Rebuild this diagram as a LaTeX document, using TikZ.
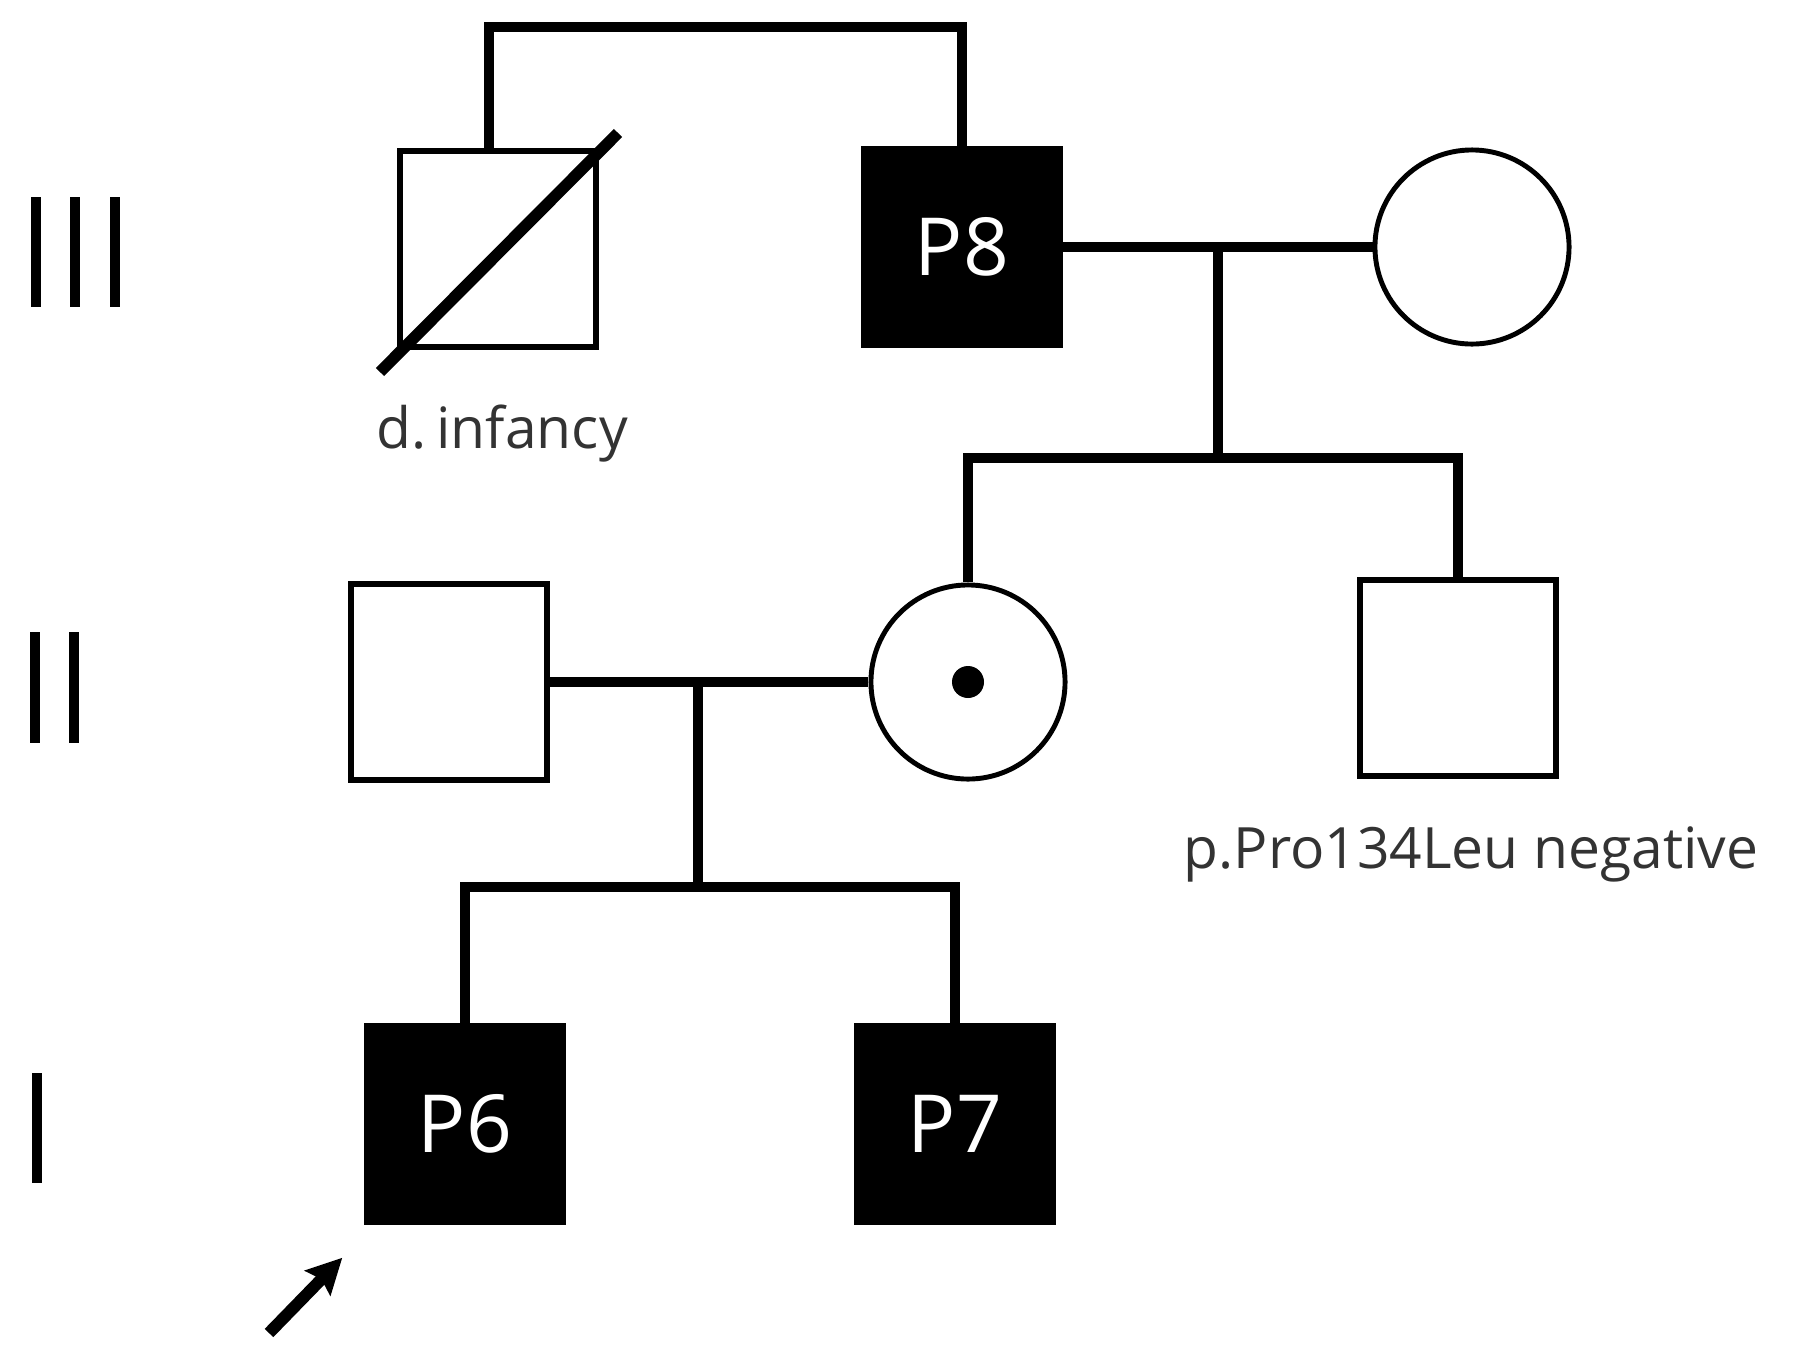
\documentclass[tikz,border=0pt]{standalone}
\usepackage{fontspec}
\setmainfont{Open Sans}
\usetikzlibrary{calc, arrows.meta}

\begin{document}
\begin{tikzpicture}[x=0.01cm, y=-0.01cm,
        male/.style={draw, line width=1.5pt, rectangle, minimum size=1.96cm, inner sep=0pt},
        female/.style={draw, line width=1.4pt, circle, minimum size=1.94cm, inner sep=0pt},
        affected/.style={fill=black, text=white, font=\fontsize{22.8}{26}\selectfont},
        link/.style={line width=3.1pt},
        gen/.style={line width=3.1pt},
        note/.style={text=black!80, font=\fontsize{16.2}{19}\selectfont, anchor=base, inner sep=0pt}]
    \useasboundingbox (0,0) rectangle (1800,1345);

    % generation numbers
    \foreach \x in {36,75,115}
        \draw[gen] (\x,197) -- (\x,307);
    \foreach \x in {35,74}
        \draw[gen] (\x,632) -- (\x,743);
    \draw[gen] (37,1073) -- (37,1183);

    % generation III
    \node[male] (infant) at (498,249) {};
    \node[male, affected] (P8) at (962,247) {P8};
    \node[female] (wife) at (1472,247) {};
    \draw[line width=3.3pt] ($(infant.center)+(-118,123)$) -- ($(infant.center)+(120,-116)$);
    \node[note] (infantlbl) at (502,448) {d.\hspace{0.18em}infancy};

    % generation II
    \node[male] (husband) at (449,682) {};
    \node[female] (carrier) at (968,682) {};
    \fill (carrier.center) circle (0.16cm);
    \node[male] (brother) at (1458,678) {};
    \node[note] (brotherlbl) at (1471,868) {p.Pro134Leu negative};

    % generation I
    \node[male, affected] (P6) at (465,1124) {P6};
    \node[male, affected] (P7) at (955,1124) {P7};

    % lines of descent
    \coordinate (top) at (0,27);
    \coordinate (infanttop) at ($(infant.north)+(-9,0)$);
    \draw[link] (infanttop) -- (infanttop |- top) -- (P8.north |- top) -- (P8.north);

    \coordinate (m3) at (1218,247);
    \coordinate (s3) at (1218,458);
    \draw[link] (P8.east) -- (wife.west);
    \draw[link] (m3) -- (s3);
    \draw[link] (carrier.north) |- (s3) -| (brother.north);

    \coordinate (m2) at (698,682);
    \coordinate (s2) at (698,887);
    \draw[link] (husband.east) -- (carrier.west);
    \draw[link] (m2) -- (s2);
    \draw[link] (P6.north) |- (s2) -| (P7.north);

    % proband
    \coordinate (probandtail) at (269,1333);
    \draw[link, line width=3.4pt, -{Stealth[length=10pt, width=10pt, inset=1.5pt]}] (probandtail) -- ($(P6.south west)+(-22,33)$);
\end{tikzpicture}
\end{document}
